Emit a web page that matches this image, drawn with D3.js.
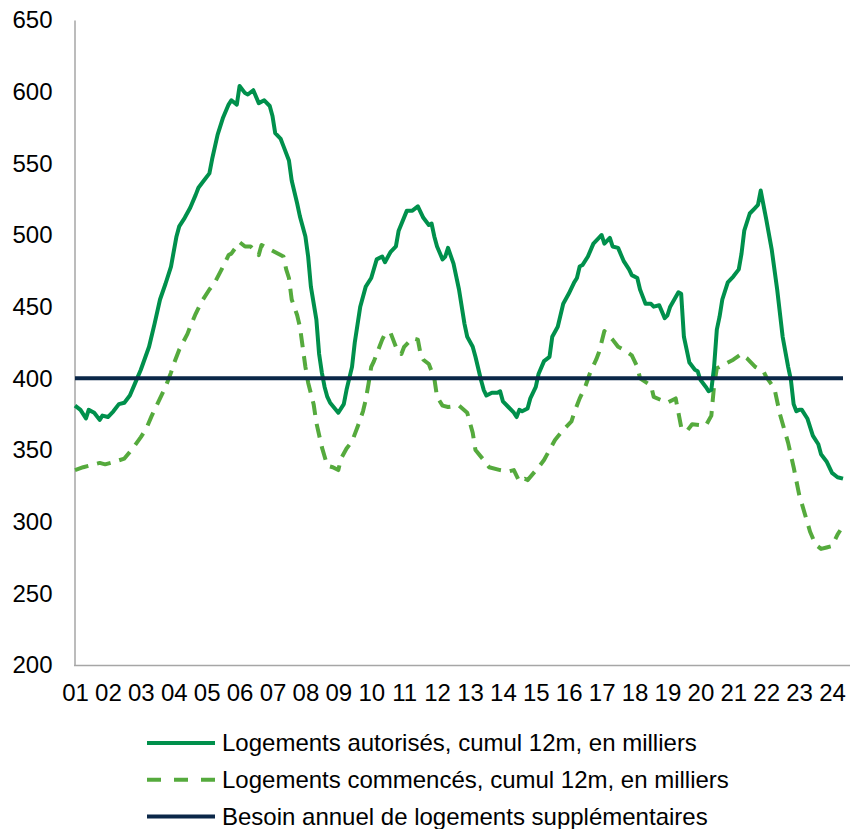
<!DOCTYPE html>
<html>
<head>
<meta charset="utf-8">
<script src="https://cdn.jsdelivr.net/npm/d3@7"></script>
<style>
  html, body { margin: 0; padding: 0; background: #ffffff; }
  svg { display: block; font-family: "Liberation Sans", Arial, sans-serif; }
</style>
</head>
<body>
<svg id="chart" width="851" height="829"></svg>
<script>
// ---------- DATA ----------
const yTicks = [200, 250, 300, 350, 400, 450, 500, 550, 600, 650];
const xTickLabels = ["01","02","03","04","05","06","07","08","09","10","11","12",
                     "13","14","15","16","17","18","19","20","21","22","23","24"];
const seriesNames = [
  "Logements autorisés, cumul 12m, en milliers",
  "Logements commencés, cumul 12m, en milliers",
  "Besoin annuel de logements supplémentaires"
];

// Logements autorisés, cumul 12 mois (milliers)
const autDates = [
  "2001-01","2001-03","2001-05","2001-06","2001-08","2001-10","2001-11","2002-01","2002-03","2002-05",
  "2002-07","2002-09","2002-11","2003-01","2003-04","2003-06","2003-08","2003-10","2003-12","2004-02",
  "2004-03","2004-05","2004-07","2004-09","2004-10","2004-12","2005-02","2005-03","2005-05","2005-07",
  "2005-09","2005-10","2005-12","2006-01","2006-03","2006-04","2006-06","2006-08","2006-10","2006-12",
  "2007-01","2007-02","2007-04","2007-05","2007-07","2007-08","2007-10","2007-11","2008-01","2008-02",
  "2008-03","2008-05","2008-06","2008-07","2008-08","2008-09","2008-10","2009-01","2009-03","2009-04",
  "2009-06","2009-07","2009-09","2009-11","2010-01","2010-03","2010-05","2010-06","2010-08","2010-10",
  "2010-11","2011-02","2011-04","2011-06","2011-08","2011-10","2011-11","2011-12","2012-01","2012-03",
  "2012-04","2012-05","2012-07","2012-09","2012-11","2012-12","2013-02","2013-03","2013-05","2013-06",
  "2013-07","2013-09","2013-11","2013-12","2014-01","2014-03","2014-05","2014-06","2014-07","2014-08",
  "2014-10","2014-11","2015-01","2015-02","2015-04","2015-06","2015-07","2015-09","2015-11","2016-01",
  "2016-03","2016-04","2016-05","2016-06","2016-08","2016-10","2016-12","2017-01","2017-02","2017-04",
  "2017-05","2017-07","2017-09","2017-11","2017-12","2018-02","2018-03","2018-04","2018-05","2018-07",
  "2018-08","2018-10","2018-12","2019-01","2019-02","2019-05","2019-06","2019-07","2019-08","2019-09",
  "2019-11","2019-12","2020-01","2020-03","2020-04","2020-05","2020-06","2020-07","2020-08","2020-09",
  "2020-11","2021-01","2021-03","2021-04","2021-05","2021-07","2021-09","2021-10","2021-11","2022-01",
  "2022-03","2022-05","2022-07","2022-09","2022-10","2022-11","2022-12","2023-01","2023-02","2023-04",
  "2023-06","2023-08","2023-09","2023-11","2024-01","2024-03","2024-05"
];
const autValues = [
  381,378,372,378,376,371,374,373,377,382,
  383,388,397,406,422,438,455,466,478,499,
  506,512,519,528,533,538,543,553,570,582,
  591,594,591,604,599,598,601,592,594,590,
  583,571,567,562,552,538,522,513,499,485,
  464,441,417,404,394,387,383,376,382,392,
  408,425,450,464,470,483,485,481,488,492,
  503,517,517,520,512,507,508,499,492,483,
  485,491,480,462,438,429,422,415,399,392,
  388,390,390,391,384,380,376,373,378,377,
  379,386,394,403,412,415,429,436,452,459,
  467,470,478,479,485,494,498,500,494,498,
  492,491,482,476,472,470,462,457,452,452,
  450,451,442,444,450,460,459,429,420,411,
  406,405,399,394,391,392,408,434,443,455,
  467,471,476,487,503,515,519,521,531,511,
  490,462,429,408,399,382,377,378,378,372,
  360,354,347,342,334,331,330
];

// Logements commencés, cumul 12 mois (milliers)
const comDates = [
  "2001-01","2001-04","2001-10","2001-12","2002-02","2002-07","2002-10","2003-01","2003-03","2003-05",
  "2003-07","2003-10","2003-12","2004-01","2004-03","2004-06","2004-07","2004-09","2004-11","2005-02",
  "2005-04","2005-07","2005-09","2005-10","2006-01","2006-03","2006-05","2006-08","2006-09","2007-01",
  "2007-05","2007-06","2007-07","2007-08","2007-10","2007-11","2007-12","2008-01","2008-02","2008-04",
  "2008-05","2008-07","2008-09","2008-11","2009-01","2009-02","2009-04","2009-06","2009-08","2009-10",
  "2009-11","2009-12","2010-01","2010-02","2010-03","2010-04","2010-05","2010-06","2010-08","2010-10",
  "2010-12","2011-01","2011-04","2011-06","2011-07","2011-08","2011-10","2011-12","2012-01","2012-03",
  "2012-05","2012-09","2012-12","2013-02","2013-03","2013-06","2013-08","2013-12","2014-03","2014-05",
  "2014-07","2014-09","2014-10","2015-02","2015-04","2015-06","2015-08","2015-11","2016-02","2016-03",
  "2016-05","2016-07","2016-09","2016-11","2016-12","2017-02","2017-05","2017-07","2017-09","2017-12",
  "2018-02","2018-03","2018-07","2018-08","2019-01","2019-04","2019-05","2019-06","2019-08","2019-10",
  "2020-03","2020-05","2020-06","2020-07","2020-09","2021-01","2021-04","2021-06","2021-09","2021-12",
  "2022-01","2022-04","2022-06","2022-09","2022-11","2023-01","2023-03","2023-05","2023-07","2023-09",
  "2023-11","2024-01","2024-03","2024-04"
];
const comValues = [
  336,338,341,340,341,344,351,359,365,374,
  382,394,404,410,420,431,436,445,453,462,
  467,478,486,487,495,492,492,486,493,489,
  485,476,470,455,444,436,422,408,397,382,
  369,352,339,338,336,344,351,356,366,377,
  385,396,408,412,417,422,427,431,432,422,
  417,422,428,427,417,413,410,400,387,381,
  380,381,376,362,350,343,338,336,335,336,
  328,330,329,338,343,350,357,364,370,376,
  386,394,405,413,418,433,427,422,420,416,
  408,400,395,387,383,386,376,366,363,368,
  367,374,395,407,409,413,417,414,408,405,
  401,393,375,355,338,319,306,293,284,281,
  282,283,291,294
];

const besoinValue = 400;

// ---------- LAYOUT ----------
const plot = { left: 75, right: 843, axisRight: 850, top: 20, bottom: 665 };
const colors = { aut: "#00904C", com: "#55AA3D", besoin: "#0B2748", axis: "#A6A6A6", text: "#000000" };
const fontFamily = '"Liberation Sans", Arial, sans-serif';

const monthIndex = s => { const [yy, mm] = s.split("-").map(Number); return (yy - 2001) * 12 + (mm - 1); };

const aut = autDates.map((d, i) => ({ m: monthIndex(d), v: autValues[i] }));
const com = comDates.map((d, i) => ({ m: monthIndex(d), v: comValues[i] }));
const lastMonth = d3.max(aut, d => d.m);

const x = d3.scaleLinear().domain([0, lastMonth]).range([plot.left, plot.right]);
const y = d3.scaleLinear().domain([d3.min(yTicks), d3.max(yTicks)]).range([plot.bottom, plot.top]);

const svg = d3.select("#chart");

// Y axis
const yAxis = svg.append("g")
  .attr("transform", `translate(${plot.left - 0.5},0)`)
  .call(d3.axisLeft(y).tickValues(yTicks).tickSize(0).tickSizeOuter(0).tickPadding(22).tickFormat(d3.format("d")));
yAxis.select(".domain").attr("stroke", colors.axis).attr("stroke-width", 1.5);
yAxis.selectAll("text").attr("font-size", 24).attr("fill", colors.text).attr("font-family", fontFamily);

// X axis
const xTickVals = xTickLabels.map((l, i) => monthIndex(`${2001 + i}-01`));
const xAxis = svg.append("g")
  .attr("transform", `translate(0,${plot.bottom + 0.5})`)
  .call(d3.axisBottom(x).tickValues(xTickVals).tickSize(0).tickSizeOuter(0).tickPadding(18)
    .tickFormat((d, i) => xTickLabels[i]));
xAxis.select(".domain").remove();
xAxis.append("line")
  .attr("x1", plot.left - 1).attr("x2", plot.axisRight)
  .attr("y1", 0).attr("y2", 0)
  .attr("stroke", colors.axis).attr("stroke-width", 1.5);
xAxis.selectAll("text").attr("font-size", 24).attr("fill", colors.text).attr("font-family", fontFamily);

// Lines
const line = d3.line().x(d => x(d.m)).y(d => y(d.v)).curve(d3.curveLinear);

svg.append("path").datum(com)
  .attr("fill", "none").attr("stroke", colors.com).attr("stroke-width", 4)
  .attr("stroke-dasharray", "14,9").attr("stroke-linejoin", "round")
  .attr("d", line);

svg.append("path").datum(aut)
  .attr("fill", "none").attr("stroke", colors.aut).attr("stroke-width", 4)
  .attr("stroke-linejoin", "round")
  .attr("d", line);

svg.append("path").datum([{ m: 0, v: besoinValue }, { m: lastMonth, v: besoinValue }])
  .attr("fill", "none").attr("stroke", colors.besoin).attr("stroke-width", 4)
  .attr("d", line);

// Legend
const legendStyles = [
  { color: colors.aut, dash: null },
  { color: colors.com, dash: "14,13" },
  { color: colors.besoin, dash: null }
];
const legend = svg.append("g").attr("transform", "translate(147,743)");
const items = legend.selectAll("g").data(seriesNames).join("g")
  .attr("transform", (d, i) => `translate(0,${i * 36.7})`);
items.append("line")
  .attr("x1", 0).attr("x2", 68).attr("y1", 0).attr("y2", 0)
  .attr("stroke", (d, i) => legendStyles[i].color)
  .attr("stroke-width", 4)
  .attr("stroke-dasharray", (d, i) => legendStyles[i].dash);
items.append("text")
  .attr("x", 75).attr("y", 0).attr("dy", "0.35em")
  .attr("font-size", 24).attr("fill", colors.text).attr("font-family", fontFamily)
  .text(d => d);
</script>
</body>
</html>
